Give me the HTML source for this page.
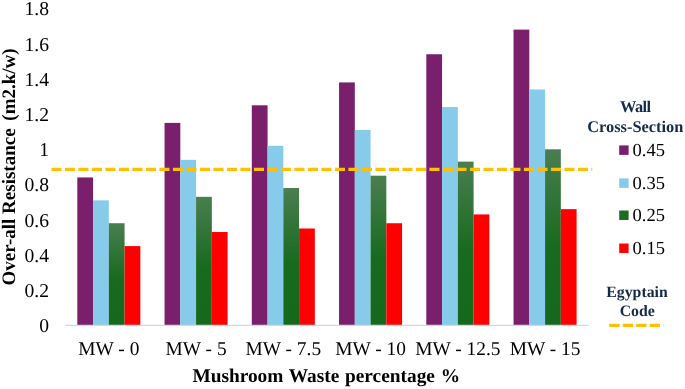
<!DOCTYPE html>
<html><head><meta charset="utf-8"><style>
html,body{margin:0;padding:0;background:#fff;width:685px;height:389px;overflow:hidden;}
svg{display:block;will-change:transform;}
text{font-family:"Liberation Serif",serif;text-rendering:geometricPrecision;}
</style></head><body>
<svg width="685" height="389" viewBox="0 0 685 389">
<defs><linearGradient id="gg0" gradientUnits="userSpaceOnUse" x1="0" y1="223.22" x2="0" y2="325"><stop offset="0" stop-color="#4A7E50"/><stop offset="0.55" stop-color="#186A1F"/><stop offset="1" stop-color="#15681C"/></linearGradient><linearGradient id="gg1" gradientUnits="userSpaceOnUse" x1="0" y1="196.82" x2="0" y2="325"><stop offset="0" stop-color="#4A7E50"/><stop offset="0.55" stop-color="#186A1F"/><stop offset="1" stop-color="#15681C"/></linearGradient><linearGradient id="gg2" gradientUnits="userSpaceOnUse" x1="0" y1="188.02" x2="0" y2="325"><stop offset="0" stop-color="#4A7E50"/><stop offset="0.55" stop-color="#186A1F"/><stop offset="1" stop-color="#15681C"/></linearGradient><linearGradient id="gg3" gradientUnits="userSpaceOnUse" x1="0" y1="175.70" x2="0" y2="325"><stop offset="0" stop-color="#4A7E50"/><stop offset="0.55" stop-color="#186A1F"/><stop offset="1" stop-color="#15681C"/></linearGradient><linearGradient id="gg4" gradientUnits="userSpaceOnUse" x1="0" y1="161.62" x2="0" y2="325"><stop offset="0" stop-color="#4A7E50"/><stop offset="0.55" stop-color="#186A1F"/><stop offset="1" stop-color="#15681C"/></linearGradient><linearGradient id="gg5" gradientUnits="userSpaceOnUse" x1="0" y1="149.30" x2="0" y2="325"><stop offset="0" stop-color="#4A7E50"/><stop offset="0.55" stop-color="#186A1F"/><stop offset="1" stop-color="#15681C"/></linearGradient></defs>
<g><rect x="77.30" y="177.46" width="15.76" height="147.54" fill="#7A1F6C"/><rect x="93.06" y="200.34" width="15.76" height="124.66" fill="#87CBEB"/><rect x="108.82" y="223.22" width="15.76" height="101.78" fill="url(#gg0)"/><rect x="124.58" y="246.10" width="15.76" height="78.90" fill="#FF0000"/><rect x="164.55" y="122.90" width="15.76" height="202.10" fill="#7A1F6C"/><rect x="180.31" y="159.86" width="15.76" height="165.14" fill="#87CBEB"/><rect x="196.07" y="196.82" width="15.76" height="128.18" fill="url(#gg1)"/><rect x="211.83" y="232.02" width="15.76" height="92.98" fill="#FF0000"/><rect x="251.80" y="105.30" width="15.76" height="219.70" fill="#7A1F6C"/><rect x="267.56" y="145.78" width="15.76" height="179.22" fill="#87CBEB"/><rect x="283.32" y="188.02" width="15.76" height="136.98" fill="url(#gg2)"/><rect x="299.08" y="228.50" width="15.76" height="96.50" fill="#FF0000"/><rect x="339.05" y="82.42" width="15.76" height="242.58" fill="#7A1F6C"/><rect x="354.81" y="129.94" width="15.76" height="195.06" fill="#87CBEB"/><rect x="370.57" y="175.70" width="15.76" height="149.30" fill="url(#gg3)"/><rect x="386.33" y="223.22" width="15.76" height="101.78" fill="#FF0000"/><rect x="426.30" y="54.26" width="15.76" height="270.74" fill="#7A1F6C"/><rect x="442.06" y="107.06" width="15.76" height="217.94" fill="#87CBEB"/><rect x="457.82" y="161.62" width="15.76" height="163.38" fill="url(#gg4)"/><rect x="473.58" y="214.42" width="15.76" height="110.58" fill="#FF0000"/><rect x="513.55" y="29.62" width="15.76" height="295.38" fill="#7A1F6C"/><rect x="529.31" y="89.46" width="15.76" height="235.54" fill="#87CBEB"/><rect x="545.07" y="149.30" width="15.76" height="175.70" fill="url(#gg5)"/><rect x="560.83" y="209.14" width="15.76" height="115.86" fill="#FF0000"/></g>
<line x1="65.2" y1="325.3" x2="588.7" y2="325.3" stroke="#C9DAF0" stroke-width="1.2"/>
<line x1="51.4" y1="169.3" x2="592.2" y2="169.3" stroke="#FFC000" stroke-width="3.2" stroke-dasharray="10.1 3.4"/>
<g font-size="19.6" fill="#000"><text x="49" y="332.20" text-anchor="end">0</text><text x="49" y="297.00" text-anchor="end">0.2</text><text x="49" y="261.80" text-anchor="end">0.4</text><text x="49" y="226.60" text-anchor="end">0.6</text><text x="49" y="191.40" text-anchor="end">0.8</text><text x="49" y="156.20" text-anchor="end">1</text><text x="49" y="121.00" text-anchor="end">1.2</text><text x="49" y="85.80" text-anchor="end">1.4</text><text x="49" y="50.60" text-anchor="end">1.6</text><text x="49" y="15.40" text-anchor="end">1.8</text></g>
<g font-size="19.4" fill="#000"><text x="108.83" y="355.2" text-anchor="middle">MW - 0</text><text x="196.07" y="355.2" text-anchor="middle">MW - 5</text><text x="283.32" y="355.2" text-anchor="middle">MW - 7.5</text><text x="370.57" y="355.2" text-anchor="middle">MW - 10</text><text x="457.82" y="355.2" text-anchor="middle">MW - 12.5</text><text x="545.08" y="355.2" text-anchor="middle">MW - 15</text></g>
<text x="326.2" y="382.4" text-anchor="middle" font-size="19.35" word-spacing="0.9" font-weight="bold" fill="#000">Mushroom Waste percentage %</text>
<text transform="translate(14.8,166.9) rotate(-90)" text-anchor="middle" font-size="19" font-weight="bold" fill="#000">Over-all Resistance<tspan dx="3"> (m2.k/w)</tspan></text>
<g font-size="16.4" font-weight="bold" fill="#142A4A" text-anchor="middle">
<text x="635.2" y="112.4" letter-spacing="-0.6">Wall</text>
<text x="635.3" y="131.8">Cross-Section</text>
<text x="637" y="297" font-size="15.8">Egyptain</text>
<text x="637.2" y="315.8" font-size="15.8">Code</text>
</g>
<rect x="619.2" y="145.4" width="9.4" height="9.5" fill="#7A1F6C"/>
<rect x="619.2" y="178.4" width="9.4" height="9.5" fill="#87CBEB"/>
<rect x="619.2" y="210.5" width="9.4" height="9.5" fill="#1D6B24"/>
<rect x="619.2" y="243.5" width="9.4" height="9.5" fill="#FF0000"/>
<g font-size="18.5" fill="#000">
<text x="632.6" y="155.9">0.45</text>
<text x="632.6" y="188.6">0.35</text>
<text x="632.6" y="221.1">0.25</text>
<text x="632.6" y="254">0.15</text>
</g>
<line x1="609.3" y1="325.4" x2="663.6" y2="325.4" stroke="#FFC000" stroke-width="3.2" stroke-dasharray="10.2 3.3"/>
</svg>
</body></html>
